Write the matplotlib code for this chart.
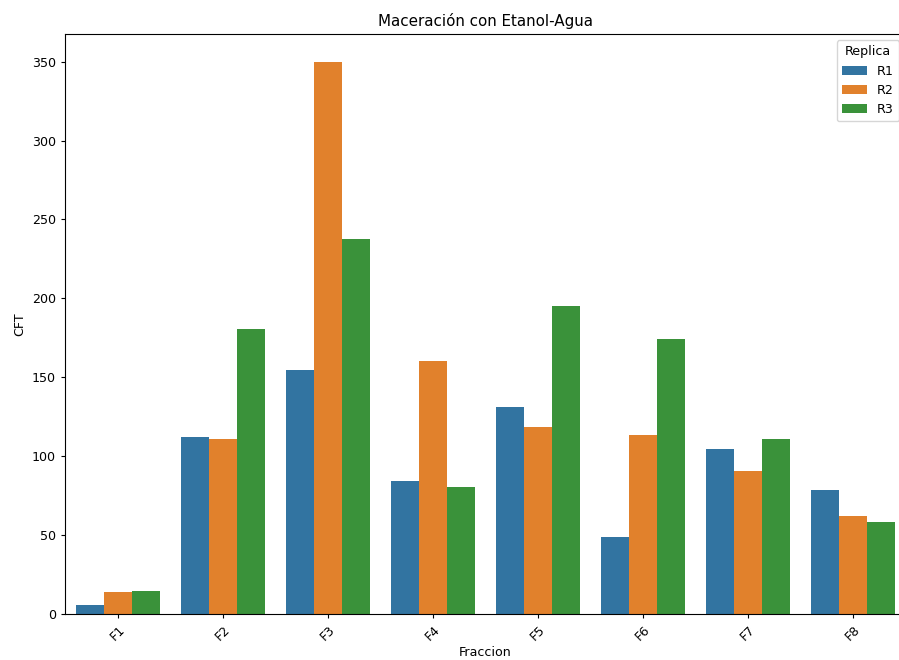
import matplotlib
matplotlib.use("Agg")
import matplotlib.pyplot as plt
import seaborn as sns
import pandas as pd

fracciones = ["F1", "F2", "F3", "F4", "F5", "F6", "F7", "F8"]
replicas = ["R1", "R2", "R3"]
r1 = [5.7, 112.1, 154.6, 84.4, 130.9, 48.7, 104.3, 78.7]
r2 = [13.8, 110.6, 350.0, 160.3, 118.2, 113.4, 90.9, 62.2]
r3 = [14.6, 180.4, 237.3, 80.6, 195.2, 174.3, 110.8, 58.6]

rows = []
for rep, vals in zip(replicas, [r1, r2, r3]):
    for f, v in zip(fracciones, vals):
        rows.append({"Fraccion": f, "Replica": rep, "CFT": v})
df = pd.DataFrame(rows)

plt.rcParams["font.size"] = 9.1
plt.rcParams["xtick.major.size"] = 3.2
plt.rcParams["ytick.major.size"] = 3.2

fig = plt.figure(figsize=(8.99, 6.6), dpi=100)
ax = fig.add_axes([65 / 899, 46 / 660, (905.5 - 65) / 899, (614 - 34) / 660])
sns.barplot(data=df, x="Fraccion", y="CFT", hue="Replica", ax=ax,
            order=fracciones, hue_order=replicas)
ax.set_title("Maceración con Etanol-Agua", pad=5.5)
ax.set_xlabel("Fraccion", labelpad=2)
ax.set_ylabel("CFT")
ax.tick_params(axis="x", rotation=45)
ax.legend(title="Replica", loc="upper right")
fig.savefig("out.png", dpi=100)
